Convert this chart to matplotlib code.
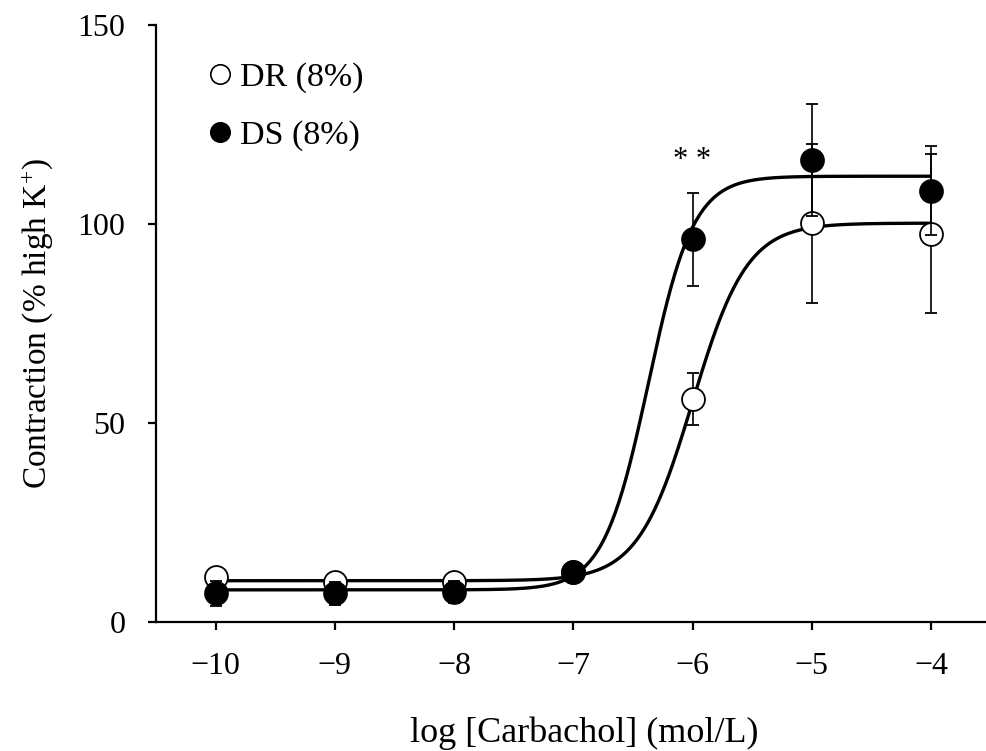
import numpy as np
import matplotlib
matplotlib.use("Agg")
import matplotlib.pyplot as plt
from matplotlib.lines import Line2D

plt.rcParams['font.family'] = ['Liberation Serif', 'DejaVu Serif']
plt.rcParams['mathtext.fontset'] = 'custom'
plt.rcParams['mathtext.rm'] = 'Liberation Serif'
plt.rcParams['mathtext.it'] = 'Liberation Serif:italic'

# ---- data ----
log_conc = [-10, -9, -8, -7, -6, -5, -4]
dr_mean = [11.3, 10.1, 10.1, 12.4, 56.0, 100.2, 97.5]
dr_err = [1.0, 1.0, 1.0, 1.0, 6.5, 20.0, 20.0]
ds_mean = [7.1, 7.1, 7.5, 12.4, 96.2, 116.1, 108.4]
ds_err = [3.2, 3.0, 2.7, 1.0, 11.7, 14.1, 11.3]

# 4-parameter logistic fit parameters (bottom, top, logEC50, hill)
dr_fit = dict(bottom=10.3, top=100.2, logec50=-6.0, hill=1.9)
ds_fit = dict(bottom=8.0, top=112.0, logec50=-6.37, hill=2.3)

series_labels = ['DR (8%)', 'DS (8%)']
xticks = [-10, -9, -8, -7, -6, -5, -4]
yticks = [0, 50, 100, 150]
sig_x, sig_y, sig_text = -6.0, 116.0, '* *'


def logistic(x, bottom, top, logec50, hill):
    return bottom + (top - bottom) / (1 + 10 ** ((logec50 - x) * hill))


fig = plt.figure(figsize=(9.87, 7.51), dpi=100)
ax = fig.add_axes([156 / 987, 0.1722, 0.8456, 0.7944])

xs = np.linspace(log_conc[0], log_conc[-1], 400)
for fit in (dr_fit, ds_fit):
    ax.plot(xs, logistic(xs, **fit), color='black', lw=2.4, zorder=2, solid_capstyle='butt')

ax.errorbar(log_conc, dr_mean, yerr=dr_err, fmt='o', mfc='white', mec='black', mew=1.3,
            ms=16.5, ecolor='black', elinewidth=1.2, capsize=4.5, capthick=1.2, zorder=3)
ax.errorbar(log_conc, ds_mean, yerr=ds_err, fmt='o', mfc='black', mec='black', mew=1.3,
            ms=16.5, ecolor='black', elinewidth=1.2, capsize=4.5, capthick=1.2, zorder=4)

ax.text(sig_x, sig_y, sig_text, ha='center', va='center', fontsize=22)

ax.set_xlim(-10.5, -3.5)
ax.set_ylim(0, 150)
ax.set_xticks(xticks)
ax.set_xticklabels(['\u2212' + str(abs(t)) for t in xticks])
ax.set_yticks(yticks)

for s in ['top', 'right']:
    ax.spines[s].set_visible(False)
for s in ['left', 'bottom']:
    ax.spines[s].set_linewidth(1.6)
ax.tick_params(axis='both', direction='out', length=6, width=1.6, labelsize=23)
ax.tick_params(axis='x', pad=16)
ax.tick_params(axis='y', pad=16)

ax.set_xlabel('log [Carbachol] (mol/L)', fontsize=26, va='bottom')
ax.xaxis.set_label_coords(0.513, -0.215)
ax.set_ylabel(r'Contraction (% high K$^{+}$)', fontsize=24)
ax.yaxis.set_label_coords(-0.121, 0.5)

handles = [
    Line2D([], [], marker='o', ls='none', mfc='white', mec='black', mew=1.2, ms=14),
    Line2D([], [], marker='o', ls='none', mfc='black', mec='black', mew=1.2, ms=14),
]
ax.legend(handles, series_labels, loc='upper left', bbox_to_anchor=(0.048, 0.961), frameon=False,
          fontsize=24.5, handlelength=0.6, handletextpad=0.3, labelspacing=0.8, borderaxespad=0)

fig.savefig('out.png', dpi=100)
